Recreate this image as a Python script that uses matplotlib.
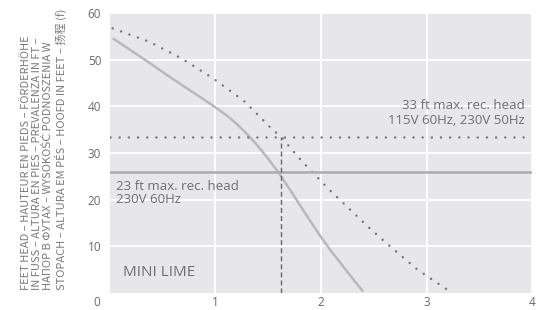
import matplotlib
matplotlib.use("Agg")
import matplotlib.pyplot as plt

plt.rcParams['font.family'] = ['Open Sans', 'Noto Sans CJK SC', 'DejaVu Sans']
plt.rcParams['lines.scale_dashes'] = False

# Data
flow_230 = [0.03, 0.34, 0.59, 0.95, 1.1, 1.2, 1.3, 1.4, 1.5, 1.6, 1.7, 1.8, 1.9, 2.0, 2.1, 2.2, 2.3, 2.4]
head_230 = [54.6, 49.9, 46.0, 40.6, 38.2, 36.3, 34.1, 31.6, 28.8, 25.8, 22.4, 18.9, 15.4, 12.0, 8.9, 6.0, 3.1, 0.3]

flow_115 = [0.03, 0.37, 0.68, 0.98, 1.27, 1.39, 1.52, 1.63, 1.79, 1.91, 2.09, 2.28, 2.47, 2.66, 2.92, 3.23]
head_115 = [56.7, 53.9, 50.3, 46.0, 41.2, 38.5, 35.5, 33.3, 29.0, 26.1, 21.9, 17.8, 13.7, 9.9, 4.9, 0.2]

max_head_230 = 25.9
max_head_115 = 33.5
duty_flow = 1.62

x_ticks = [1, 2, 3, 4]
y_ticks = [10, 20, 30, 40, 50, 60]

ylabel = ("FEET HEAD – HAUTEUR EN PIEDS – FÖRDERHÖHE\n"
          "IN FUSS – ALTURA EN PIES – PREVALENZA IN FT –\n"
          "НАПОР В ФУТАХ – WYSOKOŚĆ PODNOSZENIA W\n"
          "STOPACH – ALTURA EM PÉS – HOOFD IN FEET – 扬程 (f)")

fig = plt.figure(figsize=(5.37, 3.10), dpi=100)
ax = fig.add_axes([0.204, 0.055, 0.787, 0.903])
ax.set_facecolor('#e7e7e9')
for s in ax.spines.values():
    s.set_visible(False)
ax.set_xlim(0, 4)
ax.set_ylim(0, 60)
ax.set_xticks(x_ticks)
ax.set_yticks(y_ticks)
ax.tick_params(length=0, labelsize=8.5, labelcolor='#6a6a6a', pad=6)
ax.tick_params(axis='x', pad=2.5)
ax.grid(True, color='white', linewidth=1.3)
ax.set_axisbelow(True)

ax.annotate('0', xy=(0, 0), xytext=(-12.5, -10), textcoords='offset pixels',
            ha='center', va='center', fontsize=8.5, color='#6a6a6a',
            annotation_clip=False)

ax.plot(flow_230, head_230, color='#b9b9bb', linewidth=1.8, solid_capstyle='butt')
ax.plot(flow_115, head_115, color='#757579', linewidth=1.8,
        linestyle=(0, (0.01, 6.4)), dash_capstyle='round')

ax.axhline(max_head_230, color='#acacae', linewidth=1.8)
ax.axhline(max_head_115, color='#757579', linewidth=1.8,
           linestyle=(0, (0.01, 6.6)), dash_capstyle='round')
ax.plot([duty_flow, duty_flow], [0, max_head_115], color='#666669',
        linewidth=1.0, linestyle=(0, (3.6, 2.2)))

ax.text(3.93, 35.5, '33 ft max. rec. head\n115V 60Hz, 230V 50Hz',
        ha='right', va='bottom', fontsize=9.5, color='#6f6f72', linespacing=1.2)
ax.text(0.06, 24.2, '23 ft max. rec. head\n230V 60Hz',
        ha='left', va='top', fontsize=9.5, color='#6f6f72', linespacing=1.0)
ax.text(0.13, 4.4, 'MINI LIME', ha='left', va='center', fontsize=11,
        color='#6f6f72')

fig.text(0.082, 0.064, ylabel, rotation=90, ha='center', va='bottom',
         multialignment='left', fontsize=8, color='#7a7a7d', linespacing=1.12,
         family=['Liberation Sans Narrow', 'Noto Sans CJK SC', 'DejaVu Sans'])

fig.savefig('out.png', dpi=100)
